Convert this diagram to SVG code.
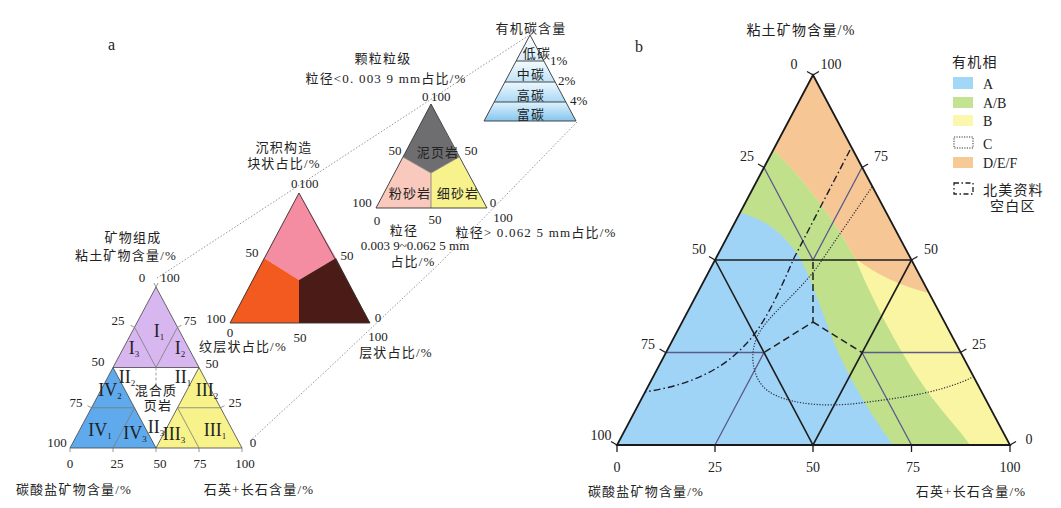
<svg xmlns="http://www.w3.org/2000/svg" width="1061" height="508" viewBox="0 0 1061 508">
<defs>
<style>
.t{font-family:"Liberation Serif","Noto Sans CJK SC",serif;font-size:13px;fill:#222}
.c{font-family:"Liberation Serif","Noto Sans CJK SC",serif;font-size:13px;fill:#222;letter-spacing:1.2px}
.m{text-anchor:middle}
.r{font-family:"Liberation Serif",serif;font-size:18px;fill:#222;text-anchor:middle}
.sub{font-size:9px}
.edge{fill:none;stroke:#333;stroke-width:0.9}
.thin{fill:none;stroke:#7a7a7a;stroke-width:0.8}
.dot{fill:none;stroke:#8a8a8a;stroke-width:0.9;stroke-dasharray:1.5 1.8}
.blk{fill:none;stroke:#1e1e1e;stroke-width:1.6}
.pur{fill:none;stroke:#5c5a8a;stroke-width:1.3}
.tick{fill:none;stroke:#1e1e1e;stroke-width:1.3}
.b14{font-size:14px}
</style>
<linearGradient id="g1" x1="0" y1="0" x2="0" y2="1"><stop offset="0" stop-color="#ffffff"/><stop offset="1" stop-color="#d6eefb"/></linearGradient>
<linearGradient id="g2" x1="0" y1="0" x2="0" y2="1"><stop offset="0" stop-color="#f4fbff"/><stop offset="1" stop-color="#bfe3f8"/></linearGradient>
<linearGradient id="g3" x1="0" y1="0" x2="0" y2="1"><stop offset="0" stop-color="#eef8ff"/><stop offset="1" stop-color="#a8d8f5"/></linearGradient>
<linearGradient id="g4" x1="0" y1="0" x2="0" y2="1"><stop offset="0" stop-color="#dff2fd"/><stop offset="1" stop-color="#84c5ee"/></linearGradient>
</defs>
<rect width="1061" height="508" fill="#ffffff"/>

<text class="t" x="108" y="50" style="font-size:16px">a</text>
<text class="t" x="635" y="52" style="font-size:16px">b</text>

<!-- connectors -->
<g id="connectors">
<polyline class="dot" points="157,278 528,36"/>
<polyline class="dot" points="250,441 327,370 440,263 577,122"/>
</g>

<!-- organic carbon triangle -->
<g id="carbon">
<polygon points="530,35 516.1,61 543.9,61" fill="url(#g1)"/>
<polygon points="516.1,61 543.9,61 555.1,82 504.9,82" fill="url(#g2)"/>
<polygon points="504.9,82 555.1,82 565.8,102 494.2,102" fill="url(#g3)"/>
<polygon points="494.2,102 565.8,102 576,121 484,121" fill="url(#g4)"/>
<polygon class="edge" points="530,35 484,121 576,121"/>
<path class="edge" d="M516.1,61H543.9M504.9,82H555.1M494.2,102H565.8"/>
<text class="c m" x="531" y="33">有机碳含量</text>
<text class="c m" x="537" y="58">低碳</text>
<text class="c m" x="531" y="79">中碳</text>
<text class="c m" x="531" y="100">高碳</text>
<text class="c m" x="531" y="119">富碳</text>
<text class="t" x="550" y="65">1%</text>
<text class="t" x="558" y="85">2%</text>
<text class="t" x="570" y="105">4%</text>
</g>

<!-- grain size triangle -->
<g id="grain">
<polygon points="431,104 459,157 431,173 403,157" fill="#6e6e70"/>
<polygon points="403,157 431,173 431,208 376,208" fill="#f8c9bc"/>
<polygon points="431,173 459,157 487,208 431,208" fill="#f7f28c"/>
<path class="thin" d="M403,157L431,173L459,157M431,173V208"/>
<polygon class="edge" points="431,104 376,208 487,208"/>
<text class="c m" x="383" y="63">颗粒粒级</text>
<text class="c m" x="386" y="83">粒径&lt;0. 003 9 mm占比/%</text>
<text class="t" x="422" y="101">0</text>
<text class="t" x="431" y="101">100</text>
<text class="t m" x="395" y="155">50</text>
<text class="t m" x="471" y="155">50</text>
<text class="c m" x="438" y="157">泥页岩</text>
<text class="c m" x="410" y="198">粉砂岩</text>
<text class="c m" x="458" y="198">细砂岩</text>
<text class="t m" x="362" y="207">100</text>
<text class="t m" x="493" y="207">0</text>
<text class="t m" x="377" y="225">0</text>
<text class="t m" x="435" y="224">50</text>
<text class="t m" x="503" y="222">100</text>
<text class="c m" x="404" y="235">粒径</text>
<text class="t m" x="415" y="250">0.003 9~0.062 5 mm</text>
<text class="c m" x="413" y="266">占比/%</text>
<text class="c m" x="536" y="237">粒径&gt; 0.062 5 mm占比/%</text>
</g>

<!-- sedimentary structure triangle -->
<g id="structure">
<polygon points="299,193 336,258 299,280 264,258" fill="#f48ca2"/>
<polygon points="264,258 299,280 299,323 230,323" fill="#f25a20"/>
<polygon points="299,280 336,258 370,323 299,323" fill="#4b1c17"/>
<polygon class="edge" points="299,193 230,323 370,323"/>
<text class="c m" x="284" y="152">沉积构造</text>
<text class="c m" x="284" y="168">块状占比/%</text>
<text class="t" x="291" y="188">0</text>
<text class="t" x="299" y="188">100</text>
<text class="t m" x="252" y="257">50</text>
<text class="t m" x="347" y="260">50</text>
<text class="t m" x="216" y="323">100</text>
<text class="t m" x="378" y="322">0</text>
<text class="t m" x="230" y="337">0</text>
<text class="t m" x="300" y="342">50</text>
<text class="t m" x="378" y="341">100</text>
<text class="c m" x="243" y="351">纹层状占比/%</text>
<text class="c m" x="396" y="357">层状占比/%</text>
</g>

<!-- mineral composition triangle -->
<g id="mineral">
<polygon points="156,287 113,367.5 199,367.5" fill="#d8b7f0" stroke="#444" stroke-width="0.8"/>
<polygon points="113,367.5 70,448 156,448" fill="#5eaaec" stroke="#444" stroke-width="0.8"/>
<polygon points="199,367.5 156,448 242,448" fill="#f7f28a" stroke="#444" stroke-width="0.8"/>
<path class="thin" d="M134.5,327.25L156,367.5L177.5,327.25M91.5,407.75H134.5M113,448L134.5,407.75M177.5,407.75H220.5M177.5,407.75L199,448"/>
<path d="M156,367.5V392" fill="none" stroke="#888" stroke-width="0.8" stroke-dasharray="3 2"/>
<path class="thin" d="M156,287l-2,-4M156,287l2,-4M134.5,327.25l-4,-2M91.5,407.75l-4,-2M177.5,327.25l4,-2M220.5,407.75l4,-2M70,448v4M113,448v4M156,448v4M199,448v4M242,448v4"/>
<text class="c m" x="133" y="242">矿物组成</text>
<text class="c m" x="126" y="260">粘土矿物含量/%</text>
<text class="t m" x="142" y="282">0</text>
<text class="t m" x="170" y="282">100</text>
<text class="t m" x="118" y="325">25</text>
<text class="t m" x="190" y="325">75</text>
<text class="t m" x="98" y="366">50</text>
<text class="t m" x="212" y="368">50</text>
<text class="t m" x="76" y="407">75</text>
<text class="t m" x="235" y="407">25</text>
<text class="t m" x="57" y="447">100</text>
<text class="t m" x="253" y="447">0</text>
<text class="t m" x="70" y="468">0</text>
<text class="t m" x="117" y="468">25</text>
<text class="t m" x="160" y="468">50</text>
<text class="t m" x="200" y="468">75</text>
<text class="t m" x="245" y="468">100</text>
<text class="c m" x="74" y="494">碳酸盐矿物含量/%</text>
<text class="c m" x="259" y="494">石英+长石含量/%</text>
<text class="r" x="159" y="337">I<tspan class="sub" dy="3">1</tspan></text>
<text class="r" x="134" y="354">I<tspan class="sub" dy="3">3</tspan></text>
<text class="r" x="180" y="354">I<tspan class="sub" dy="3">2</tspan></text>
<text class="r" x="127" y="383">II<tspan class="sub" dy="3">2</tspan></text>
<text class="r" x="183" y="383">II<tspan class="sub" dy="3">1</tspan></text>
<text class="r" x="156" y="433">II<tspan class="sub" dy="3">3</tspan></text>
<text class="c m" x="156" y="395">混合质</text>
<text class="c m" x="158" y="410">页岩</text>
<text class="r" x="110" y="396">IV<tspan class="sub" dy="3">2</tspan></text>
<text class="r" x="100" y="436">IV<tspan class="sub" dy="3">1</tspan></text>
<text class="r" x="135" y="439">IV<tspan class="sub" dy="3">3</tspan></text>
<text class="r" x="207" y="396">III<tspan class="sub" dy="3">2</tspan></text>
<text class="r" x="215" y="436">III<tspan class="sub" dy="3">1</tspan></text>
<text class="r" x="174" y="440">III<tspan class="sub" dy="3">3</tspan></text>
</g>

<!-- panel b ternary -->
<g id="ternary-b">
<polygon points="813,75 617,445 1010,445" fill="#faf5a2"/>
<path d="M813,75L773.2,150Q818,192 855,258Q885,282 928.8,293Z" fill="#f6c794"/>
<path d="M773.2,150Q818,192 855,258C868,290 895,345 925,388C940,410 960,430 970,445L617,445Z" fill="#c0e08c"/>
<path d="M739.7,213C765,218 785,235 800,258C812,280 822,312 835,345C852,385 875,420 893,445L617,445Z" fill="#9fd4f6"/>
<path class="pur" d="M764,167.5L813,260L862,167.5M665.6,352.5H764M715,445L764,352.5M862,352.5H960.4M911.5,445L862,352.5"/>
<path class="blk" d="M715,260H911.5M715,260L813,445L911.5,260"/>
<polygon points="813,75 617,445 1010,445" fill="none" stroke="#1a1a1a" stroke-width="1.8"/>
<path d="M850,150L794,258C780,290 765,325 745,345C722,370 690,385 645,392" fill="none" stroke="#1a1a2a" stroke-width="1.4" stroke-dasharray="7 3 1.5 3"/>
<path d="M813,262V322L764,352.5M813,322L862,352.5" fill="none" stroke="#222" stroke-width="1.5" stroke-dasharray="7 4"/>
<path d="M872,187L820,263C800,292 768,315 758,335C748,355 752,385 775,395C795,405 830,407 860,403C900,398 940,393 973,377" fill="none" stroke="#2a2a40" stroke-width="1.2" stroke-dasharray="1.2 1.6"/>
<path class="tick" d="M813,75l-6,-3.5M813,75l6,-3.5M764,167.5l-6,-3.5M715,260l-6,-3.5M665.6,352.5l-6,-3.5M617,445l-6,-3.5M862,167.5l6,-3.5M911.5,260l6,-3.5M960.4,352.5l6,-3.5M1010,445l6,-3.5M617,445v7M715,445v7M813,445v7M911.5,445v7M1010,445v7"/>
<text class="c m b14" x="801" y="35">粘土矿物含量/%</text>
<text class="t m b14" x="794" y="69">0</text>
<text class="t m b14" x="831" y="69">100</text>
<text class="t m b14" x="747" y="161">25</text>
<text class="t m b14" x="881" y="161">75</text>
<text class="t m b14" x="699" y="254">50</text>
<text class="t m b14" x="931" y="254">50</text>
<text class="t m b14" x="648" y="349">75</text>
<text class="t m b14" x="979" y="349">25</text>
<text class="t m b14" x="601" y="440">100</text>
<text class="t m b14" x="1029" y="444">0</text>
<text class="t m b14" x="617" y="472">0</text>
<text class="t m b14" x="715" y="472">25</text>
<text class="t m b14" x="813" y="472">50</text>
<text class="t m b14" x="913" y="472">75</text>
<text class="t m b14" x="1010" y="472">100</text>
<text class="c m" x="646" y="496">碳酸盐矿物含量/%</text>
<text class="c m" x="971" y="496">石英+长石含量/%</text>
</g>

<!-- legend -->
<g id="legend">
<text class="c b14" x="952" y="67">有机相</text>
<rect x="953" y="77" width="20" height="12" fill="#a3d7f7"/>
<text class="t b14" x="983" y="89">A</text>
<rect x="953" y="97" width="20" height="11" fill="#c3e393"/>
<text class="t b14" x="983" y="108">A/B</text>
<rect x="953" y="115" width="20" height="11" fill="#fbf7ad"/>
<text class="t b14" x="983" y="126">B</text>
<rect x="954" y="137" width="19" height="11" fill="none" stroke="#333" stroke-width="1" stroke-dasharray="1.2 1.3"/>
<text class="t b14" x="983" y="149">C</text>
<rect x="953" y="157" width="20" height="11" fill="#f7c996"/>
<text class="t b14" x="983" y="168">D/E/F</text>
<rect x="954" y="183" width="19" height="11" fill="none" stroke="#222" stroke-width="1.3" stroke-dasharray="5 2.5 1.5 2.5"/>
<text class="c b14" x="983" y="195">北美资料</text>
<text class="c b14" x="990" y="211">空白区</text>
</g>
</svg>
